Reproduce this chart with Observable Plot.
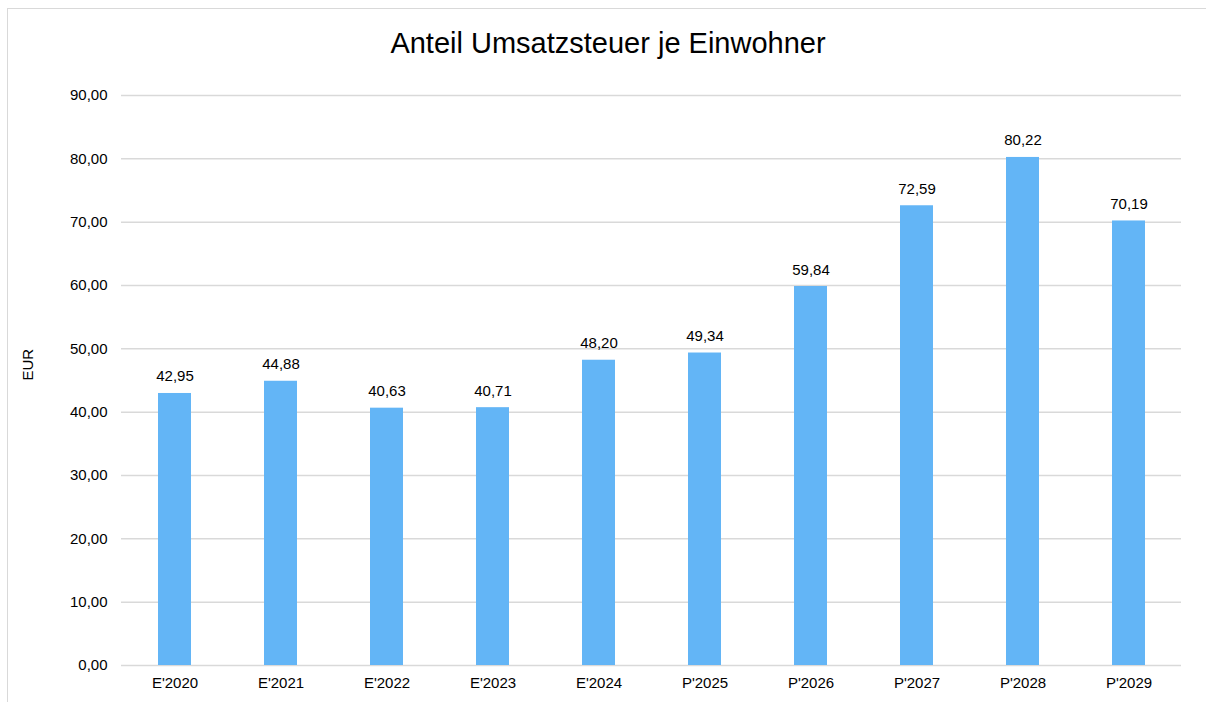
<!DOCTYPE html>
<html>
<head>
<meta charset="utf-8">
<script src="https://cdn.jsdelivr.net/npm/d3@7"></script>
<script src="https://cdn.jsdelivr.net/npm/@observablehq/plot@0.6"></script>
<style>
  html, body { margin: 0; padding: 0; background: #fff; }
  #wrap { position: relative; width: 1206px; height: 702px; overflow: hidden; font-family: "Liberation Sans", Arial, sans-serif; }
  #frame { position: absolute; left: 7px; top: 8px; width: 1300px; height: 800px; border-left: 1.5px solid #d9d9d9; border-top: 1.5px solid #d9d9d9; }
  #title { position: absolute; left: 0; top: 27px; width: 1216px; text-align: center; font-size: 29px; color: #000; }
  #chart { position: absolute; left: 0; top: 0; }
</style>
</head>
<body>
<div id="wrap">
  <div id="frame"></div>
  <div id="chart"></div>
  <div id="title">Anteil Umsatzsteuer je Einwohner</div>
</div>
<script>
const categories = ["E'2020", "E'2021", "E'2022", "E'2023", "E'2024", "P'2025", "P'2026", "P'2027", "P'2028", "P'2029"];
const values = [42.95, 44.88, 40.63, 40.71, 48.20, 49.34, 59.84, 72.59, 80.22, 70.19];
const yTicks = [0, 10, 20, 30, 40, 50, 60, 70, 80, 90];
const yLabel = "EUR";

const data = categories.map((c, i) => ({ cat: c, value: values[i] }));
const fmt = d => d.toFixed(2).replace(".", ",");

const chart = Plot.plot({
  width: 1206,
  height: 702,
  marginTop: 95,
  marginBottom: 37,
  marginLeft: 121,
  marginRight: 25,
  style: { fontFamily: "'Liberation Sans', Arial, sans-serif", fontSize: "15px", color: "#000", background: "transparent" },
  x: { domain: categories, paddingInner: 0.69, paddingOuter: 0.345, label: null },
  y: { domain: [0, 90], label: null },
  marks: [
    Plot.ruleY(yTicks, { stroke: "#d9d9d9", strokeWidth: 1.5 }),
    Plot.barY(data, { x: "cat", y: "value", fill: "#63b5f6" }),
    Plot.text(data, { x: "cat", y: "value", text: d => fmt(d.value), lineAnchor: "bottom", dy: -12, fontSize: 15, fill: "#000" }),
    Plot.axisY({ ticks: yTicks, tickFormat: fmt, tickSize: 0, tickPadding: 14, fontSize: 15, label: null }),
    Plot.axisX({ tickSize: 0, tickPadding: 12, fontSize: 15, label: null }),
    Plot.text([yLabel], { frameAnchor: "left", dx: -93, rotate: -90, text: d => d, fontSize: 15, fill: "#000" })
  ]
});
document.getElementById("chart").appendChild(chart);
</script>
</body>
</html>
